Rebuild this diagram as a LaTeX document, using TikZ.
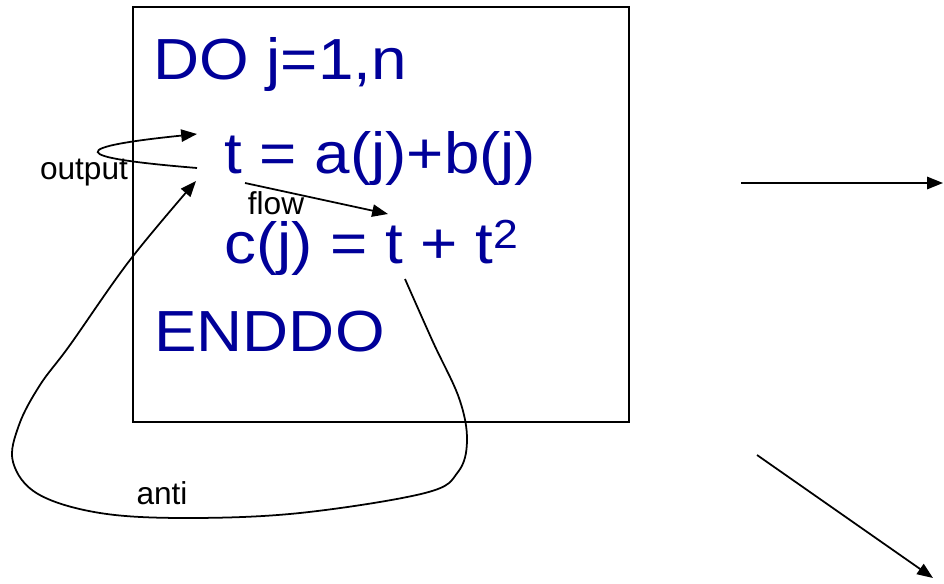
\documentclass[tikz,border=0pt]{standalone}
\usepackage{fontspec}
\setmainfont{Liberation Sans}
\newfontfamily\codefont[FakeStretch=1.1]{Liberation Sans}
\usetikzlibrary{arrows.meta,calc}
\definecolor{codeblue}{RGB}{0,0,153}
\tikzset{>={Triangle[length=9pt,width=7pt]},
  code/.style={font=\codefont\fontsize{33}{38}\selectfont,text=codeblue,inner sep=0pt,anchor=base west},
  deplabel/.style={font=\fontsize{18}{20}\selectfont,inner sep=0pt},
  dep/.style={line width=1pt,->},
  framebox/.style={draw,line width=1pt,inner sep=0pt,minimum width=9.92cm,minimum height=8.3cm}}

\begin{document}
\begin{tikzpicture}[x=.02cm,y=-.02cm]
\useasboundingbox (0,0) rectangle (944,584);
% La boucle et ses dépendances : output, flow, anti.
\node[framebox] (loopbox) at (381,214.5){};
\node[code] (doline) at (153,80){DO j=1,n};
\node[code] (stmtA) at (224,174){t = a(j)+b(j)};
\node[code] (stmtB) at (224,264){c(j) = t + t\textsuperscript{2}};
\node[code] (enddo) at (154,352){ENDDO};
\coordinate (outA) at (197,168);
\coordinate (outB) at (197,134);
\coordinate (flowA) at (245,183);
\coordinate (flowB) at (388,214);
\coordinate (antiA) at (405,279);
\coordinate (antiB) at (196,181);
\draw[dep] (outA) .. controls (100,160) and (40,150) .. (outB);
\node[deplabel] (outlbl) at (84,173){output};
\draw[dep] (flowA)--(flowB);
\node[deplabel] (flowlbl) at (276,203){flow};
\draw[dep] plot[smooth,tension=.6] coordinates {(antiA) (433,342) (459,398) (467,440)
  (458,472) (425,493) (300,513) (187,518) (100,513) (38,494) (13,462) (19,425)
  (40,385) (70,345) (130,260) (antiB)};
\node[deplabel] (antilbl) at (162,493){anti};
% Les deux flèches à droite.
\coordinate (rightA) at (741,183);
\coordinate (rightB) at (943,183);
\coordinate (diagA) at (757,455);
\coordinate (diagB) at (933,578);
\draw[dep] (rightA)--(rightB);
\draw[dep] (diagA)--(diagB);
\end{tikzpicture}
\end{document}
